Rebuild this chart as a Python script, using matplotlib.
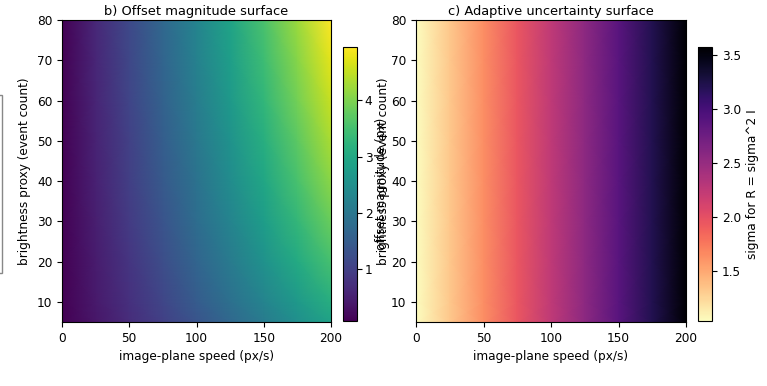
import numpy as np
import matplotlib
matplotlib.use("Agg")
import matplotlib.pyplot as plt
from matplotlib.patches import Rectangle

# grid nodes
speeds = [0, 25, 50, 75, 100, 125, 150, 175, 200]          # px/s
brightness = [5, 10, 20, 30, 40, 50, 60, 70, 80]            # event count

# b) offset magnitude (px), one row per brightness level
offset_b5 = [0.08, 0.37, 0.69, 1.01, 1.35, 1.71, 2.09, 2.48, 2.88]
offset_b10 = [0.08, 0.41, 0.75, 1.10, 1.47, 1.86, 2.27, 2.70, 3.13]
offset_b20 = [0.08, 0.45, 0.84, 1.24, 1.65, 2.09, 2.55, 3.03, 3.52]
offset_b30 = [0.08, 0.49, 0.92, 1.35, 1.80, 2.28, 2.78, 3.30, 3.83]
offset_b40 = [0.08, 0.52, 0.98, 1.44, 1.92, 2.43, 2.97, 3.53, 4.10]
offset_b50 = [0.08, 0.55, 1.03, 1.52, 2.03, 2.57, 3.14, 3.73, 4.33]
offset_b60 = [0.08, 0.58, 1.08, 1.59, 2.12, 2.69, 3.29, 3.91, 4.55]
offset_b70 = [0.08, 0.60, 1.12, 1.65, 2.20, 2.80, 3.42, 4.07, 4.75]
offset_b80 = [0.08, 0.62, 1.15, 1.70, 2.27, 2.90, 3.55, 4.22, 4.95]

# c) adaptive sigma, depends on speed only
sigma = [1.04, 1.33, 1.64, 1.95, 2.25, 2.56, 2.88, 3.21, 3.57]

offset = np.array([offset_b5, offset_b10, offset_b20, offset_b30, offset_b40,
                   offset_b50, offset_b60, offset_b70, offset_b80])
sigma_grid = np.tile(sigma, (len(brightness), 1))

plt.rcParams["font.size"] = 8.7

fig = plt.figure(figsize=(7.67, 3.86), dpi=100)

ax_b = fig.add_axes([0.0808, 0.1658, 0.3508, 0.782])
cax_b = fig.add_axes([0.4472, 0.1684, 0.0183, 0.71])
ax_c = fig.add_axes([0.5424, 0.1658, 0.352, 0.782])
cax_c = fig.add_axes([0.9100, 0.1684, 0.0183, 0.71])

m_b = ax_b.pcolormesh(speeds, brightness, offset, shading="gouraud", cmap="viridis")
ax_b.set_title("b) Offset magnitude surface", fontsize=9.4, pad=4)
ax_b.set_xlabel("image-plane speed (px/s)")
ax_b.set_ylabel("brightness proxy (event count)")
cb_b = fig.colorbar(m_b, cax=cax_b)
cb_b.ax.tick_params(pad=2)
cb_b.set_label("offset magnitude (px)", labelpad=2)

m_c = ax_c.pcolormesh(speeds, brightness, sigma_grid, shading="gouraud", cmap="magma_r")
ax_c.set_title("c) Adaptive uncertainty surface", fontsize=9.4, pad=4)
ax_c.set_xlabel("image-plane speed (px/s)")
ax_c.set_ylabel("brightness proxy (event count)", labelpad=1)
cb_c = fig.colorbar(m_c, cax=cax_c)
cb_c.set_label("sigma for R = sigma^2 I")

for ax in (ax_b, ax_c):
    ax.set_xlim(0, 200)
    ax.set_ylim(5, 80)
    ax.set_xticks([0, 50, 100, 150, 200])
    ax.set_yticks([10, 20, 30, 40, 50, 60, 70, 80])

# edge of a box from the neighbouring panel, cut off by the crop
fig.patches.append(Rectangle((-0.05, 0.293), 0.053, 0.461, transform=fig.transFigure,
                             fill=False, edgecolor="#888888", lw=1))

fig.savefig("out.png", dpi=100)
